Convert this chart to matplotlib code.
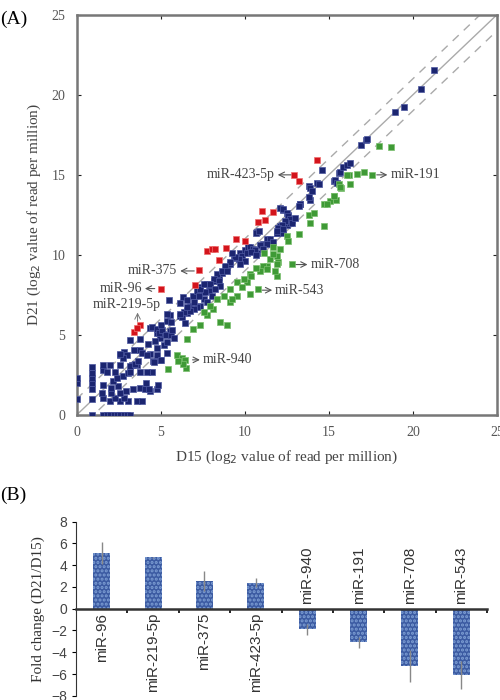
import matplotlib
matplotlib.use("Agg")
import matplotlib.pyplot as plt
import numpy as np

plt.rcParams['font.family'] = ['Liberation Serif', 'DejaVu Serif']

# ---- panel A data: D15 (x) vs D21 (y), log2 read per million ----
red_x = [3.4, 3.75, 3.6, 5.05, 7.07, 7.3, 7.76, 8.06, 8.25, 8.5, 8.9, 9.5, 10.0,
         10.8, 11.2, 11.0, 11.7, 12.95, 13.24, 14.3]
red_y = [5.2, 5.6, 5.45, 7.85, 8.1, 9.06, 10.25, 10.36, 10.4, 9.68, 10.45, 11.0, 10.9,
         12.05, 12.2, 12.75, 12.7, 15.0, 14.64, 15.9]

green_x = [5.42, 5.98, 6.27, 6.47, 6.53, 6.34, 6.06,
           6.57, 6.95, 7.36, 7.76, 8.14, 8.55, 8.95, 9.14, 9.54, 10.14,
           11.12, 11.7, 12.0, 11.3, 10.93, 10.33, 9.93, 9.54, 9.14, 8.75, 8.35, 7.96, 7.56,
           10.79, 11.9, 9.84, 9.24,
           12.8, 13.9, 14.7, 13.8, 14.1, 14.7, 15.1, 13.2, 12.5, 12.6, 12.1, 11.92, 11.5,
           11.7, 11.1, 11.3, 11.8, 11.9, 10.9, 10.7, 10.4, 10.3,
           14.9, 15.3, 15.4, 15.6, 16.2, 15.7,
           18.0, 18.7, 16.07, 16.67, 17.12, 17.56, 16.27, 15.64, 15.28]
green_y = [2.87, 3.78, 3.54, 3.43, 2.92, 3.16, 3.35,
           4.78, 5.4, 5.6, 6.22, 6.64, 5.83, 5.6, 7.07, 7.46, 8.3,
           10.15, 10.47, 9.55, 9.32, 9.12, 8.8, 8.5, 8.3, 7.88, 7.46, 7.26, 6.84, 6.43,
           7.88, 8.7, 7.98, 7.26,
           9.43, 12.0, 11.8, 12.5, 12.6, 13.15, 13.35, 11.3, 11.2, 10.9, 10.36, 9.95, 9.74,
           10.05, 9.32, 9.12, 9.0, 9.43, 9.0, 9.2, 8.7, 7.57,
           13.15, 13.65, 13.45, 14.4, 15.0, 14.2,
           16.83, 16.73, 14.97, 15.07, 15.15, 14.97, 14.43, 14.25, 13.66]

blue_x = [0.0, 0.0, 0.0,
          0.9, 1.6, 1.8, 2.0, 2.2, 2.4, 2.6, 2.8, 3.0, 3.2,
          0.9, 0.9, 0.9, 0.9, 0.9, 0.9,
          1.98, 2.57, 3.07, 3.57, 3.87, 1.6, 2.3, 2.8,
          1.49, 2.08, 2.57, 2.97, 3.37, 3.77, 4.06, 4.36, 4.8, 4.3,
          1.59, 2.08, 2.48, 2.18, 2.38, 2.77, 3.07, 4.16, 4.86, 4.5,
          1.59, 1.8, 2.3, 3.2, 3.8, 4.2,
          1.6, 2.0, 2.6, 3.3, 3.6, 3.17, 3.47, 3.67, 4.56, 4.96,
          2.6, 2.8, 3.0, 3.4, 3.8, 2.77, 2.57, 3.87, 4.36, 4.26, 4.76,
          4.2, 4.6, 4.8, 5.0, 5.4, 5.2, 5.4,
          3.2, 3.8, 4.36, 4.76, 4.96, 4.66, 5.16, 5.56,
          4.5, 4.8, 4.9, 5.1, 5.0, 5.3, 5.6, 5.8,
          5.56, 6.15, 6.55, 5.36, 5.4, 5.6, 5.7, 5.5,
          6.15, 6.35, 6.55, 6.75, 6.55, 6.25, 6.45,
          6.95, 7.15, 7.35, 7.55, 7.75, 7.95, 8.15, 8.45, 8.65, 8.95, 9.15, 9.35, 9.75, 10.0, 10.2,
          8.35, 8.15, 8.45, 7.96, 8.55, 8.25, 7.86, 7.66, 8.06, 7.56, 7.76, 7.36, 7.17, 6.97,
          6.77, 6.37, 6.18, 6.57, 6.97, 7.26, 7.36, 7.56,
          9.84, 9.64, 9.44, 10.04, 9.74, 9.24, 9.14, 8.85, 8.65, 8.95,
          10.33, 10.14, 10.5, 10.73, 11.0, 10.73, 11.3, 11.1, 11.6, 11.9, 12.0,
          10.7, 11.5, 11.7, 11.3, 10.9, 10.6, 10.4, 10.7, 11.1, 10.83,
          12.3, 12.6, 12.8, 12.5, 12.2, 12.1, 11.9, 12.3, 12.7,
          12.11, 12.3, 12.5, 12.6, 12.7, 12.4, 12.2, 12.0, 11.9, 12.3, 12.8, 13.0,
          13.3, 13.9, 13.8, 13.9, 13.3, 13.2, 13.8, 14.0, 14.3, 14.4, 14.6,
          15.28, 15.38, 15.58, 15.68, 15.87, 16.07, 16.27, 15.48,
          16.9, 17.2, 17.3, 18.94, 19.5, 20.47, 21.26]
blue_y = [1.0, 2.0, 2.3,
          0.0, 0.0, 0.0, 0.0, 0.0, 0.0, 0.0, 0.0, 0.0, 0.0,
          1.0, 1.6, 2.0, 2.3, 2.6, 3.0,
          0.9, 0.9, 0.9, 0.9, 0.9, 1.05, 1.05, 1.05,
          1.4, 1.4, 1.4, 1.5, 1.6, 1.7, 1.6, 1.5, 1.6, 1.6,
          1.91, 1.7, 1.81, 2.12, 2.33, 2.44, 2.65, 2.0, 1.91, 2.7,
          2.84, 2.67, 2.67, 2.67, 2.7, 2.67,
          3.12, 3.12, 3.12, 3.12, 3.12, 3.06, 3.17, 3.37, 3.37, 3.47,
          3.74, 3.95, 3.74, 4.05, 4.05, 3.58, 3.8, 3.89, 3.8, 4.42, 4.2,
          3.74, 3.33, 3.74, 3.43, 3.85, 4.36, 4.57,
          4.67, 4.78, 5.46, 5.15, 4.84, 4.63, 5.05, 5.24,
          5.5, 5.4, 5.1, 5.3, 5.6, 5.0, 5.0, 4.8,
          6.28, 6.18, 6.5, 5.86, 6.3, 5.8, 5.3, 7.2,
          7.0, 7.4, 7.2, 6.8, 6.35, 6.15, 5.75,
          7.45, 7.75, 8.0, 7.7, 8.2, 8.0, 8.4, 8.6, 8.9, 9.25, 9.45, 9.8, 10.1, 10.3, 10.5,
          8.8, 8.5, 8.4, 8.19, 8.08, 7.88, 7.77, 7.67, 7.46, 7.26, 7.05, 6.84, 6.74, 6.64,
          6.53, 6.43, 6.33, 6.74, 7.05, 7.46, 7.88, 8.19,
          9.95, 9.74, 9.85, 9.63, 9.43, 10.15, 9.53, 9.32, 9.0, 9.0,
          10.47, 10.15, 10.36, 10.15, 10.56, 11.43, 10.98, 10.67, 10.77, 11.4, 11.7,
          11.4, 11.0, 10.8, 10.7, 10.6, 10.3, 10.2, 10.0, 10.4, 11.5,
          12.8, 12.5, 12.2, 11.9, 11.6, 11.8, 11.4, 11.4, 12.0,
          12.95, 12.84, 12.64, 12.42, 12.22, 12.12, 11.9, 11.7, 11.5, 11.6, 12.0, 12.3,
          13.2, 13.4, 14.3, 14.2, 13.15, 13.05, 13.6, 14.0, 14.5, 14.4, 15.3,
          14.6, 14.7, 15.1, 15.2, 15.5, 15.63, 15.77, 14.5,
          16.87, 17.18, 17.22, 18.9, 19.25, 20.33, 21.57]

# labelled miRNAs: (name, text x, text y, arrow tail x, arrow tail y)
labels_left = [("miR-423-5p", 11.8, 15.0, 12.75, 15.0),
               ("miR-375", 6.0, 9.0, 7.0, 9.0),
               ("miR-96", 3.9, 7.9, 4.65, 7.9)]
labels_right = [("miR-191", 18.65, 15.0, 17.85, 15.0),
                ("miR-708", 13.9, 9.4, 13.05, 9.4),
                ("miR-543", 11.8, 7.8, 11.05, 7.8),
                ("miR-940", 7.5, 3.45, 6.9, 3.45)]

# ---- panel B data ----
mirs = ["miR-96", "miR-219-5p", "miR-375", "miR-423-5p",
        "miR-940", "miR-191", "miR-708", "miR-543"]
fold = [5.1, 4.7, 2.55, 2.4, -1.9, -3.1, -5.25, -6.1]
err = [1.0, 0.08, 0.9, 0.45, 0.5, 0.5, 1.5, 1.3]

fig = plt.figure(figsize=(5, 7), dpi=100)

ax = fig.add_axes([0.153, 0.407, 0.841, 0.572])
lim = np.array([0, 25])
ax.plot(lim, lim, color='#aaaaaa', lw=1, zorder=1)
ax.plot(lim, lim + 1, color='#aaaaaa', lw=1, ls=(0, (6, 5)), zorder=1)
ax.plot(lim, lim - 1, color='#aaaaaa', lw=1, ls=(0, (6, 5)), zorder=1)
ms = 18
ax.scatter(blue_x, blue_y, s=ms, marker='s', c='#1b2570', edgecolors='#4d58a0', lw=0.5, zorder=3)
ax.scatter(green_x, green_y, s=ms, marker='s', c='#3f9a36', edgecolors='#7cc070', lw=0.5, zorder=3)
ax.scatter(red_x, red_y, s=ms, marker='s', c='#d3141c', edgecolors='#f07070', lw=0.5, zorder=3)

for name, tx, ty, px, py in labels_left:
    ax.annotate(name, xy=(px, py), xytext=(tx, ty), ha='right', va='center', fontsize=10,
                color='#444444', arrowprops=dict(arrowstyle='<-', color='#555555', lw=0.8,
                                                 shrinkA=0, shrinkB=0))
for name, tx, ty, px, py in labels_right:
    ax.annotate(name, xy=(px, py), xytext=(tx, ty), ha='left', va='center', fontsize=10,
                color='#444444', arrowprops=dict(arrowstyle='<-', color='#555555', lw=0.8,
                                                 shrinkA=0, shrinkB=0))
ax.annotate("miR-219-5p", xy=(3.63, 5.85), xytext=(3.0, 6.9), ha='center', va='center',
            fontsize=10, color='#444444')
ax.annotate("", xy=(3.63, 6.4), xytext=(3.63, 5.85),
            arrowprops=dict(arrowstyle='->', color='#777777', lw=0.7, shrinkA=0, shrinkB=0))

ax.set_xlim(0, 25)
ax.set_ylim(0, 25)
ax.set_xticks([0, 5, 10, 15, 20, 25])
ax.set_yticks([0, 5, 10, 15, 20, 25])
ax.tick_params(direction='in', length=3, top=True, right=True, labelsize=10,
               colors='#222222', labelcolor='#555555', pad=8)
for s in ax.spines.values():
    s.set_color('#777777')
    s.set_linewidth(1.8)
ax.set_xlabel("D15 (log$_2$ value of read per million)", fontsize=11, color='#444444', labelpad=7)
ax.set_ylabel("D21 (log$_2$ value of read per million)", fontsize=11, color='#444444', labelpad=6)
fig.text(0.0, 0.985, "(A)", fontsize=14, va='top', ha='left')

# ---- panel B ----
bx = fig.add_axes([0.152, 0.006, 0.822, 0.249])
pos = np.arange(len(mirs))
plt.rcParams['hatch.linewidth'] = 1.5
bx.bar(pos, fold, width=0.33, color='#3c5ba2', edgecolor='#7e9fd4', hatch='....', lw=0, zorder=2)
bx.errorbar(pos, fold, yerr=err, fmt='none', ecolor='#888888', elinewidth=1, capsize=0, zorder=3)
bx.set_xlim(-0.5, len(mirs) - 0.5)
bx.set_ylim(-8, 8)
bx.set_yticks(np.arange(-8, 9, 2))
bx.set_xticks(pos + 0.5)
bx.set_xticklabels([])
bx.spines['bottom'].set_position(('data', 0))
bx.spines['top'].set_visible(False)
bx.spines['right'].set_visible(False)
bx.spines['bottom'].set_color('#333333')
bx.spines['left'].set_color('#333333')
bx.spines['bottom'].set_linewidth(1.8)
bx.tick_params(axis='x', direction='out', length=3, width=1.2)
bx.tick_params(axis='y', direction='out', length=3, labelsize=10, labelcolor='#444444')
for lab in bx.get_yticklabels():
    lab.set_family(['Liberation Sans', 'DejaVu Sans'])
for p, v, name in zip(pos, fold, mirs):
    if v > 0:
        bx.text(p, -0.4, name, rotation=90, ha='center', va='top', fontsize=11,
                family=['Liberation Sans', 'DejaVu Sans'], color='#333333')
    else:
        bx.text(p, 0.4, name, rotation=90, ha='center', va='bottom', fontsize=11,
                family=['Liberation Sans', 'DejaVu Sans'], color='#333333')
bx.set_ylabel("Fold change (D21/D15)", fontsize=11, color='#333333')
fig.text(0.0, 0.305, "(B)", fontsize=14, va='top', ha='left')

fig.savefig("out.png", dpi=100)
